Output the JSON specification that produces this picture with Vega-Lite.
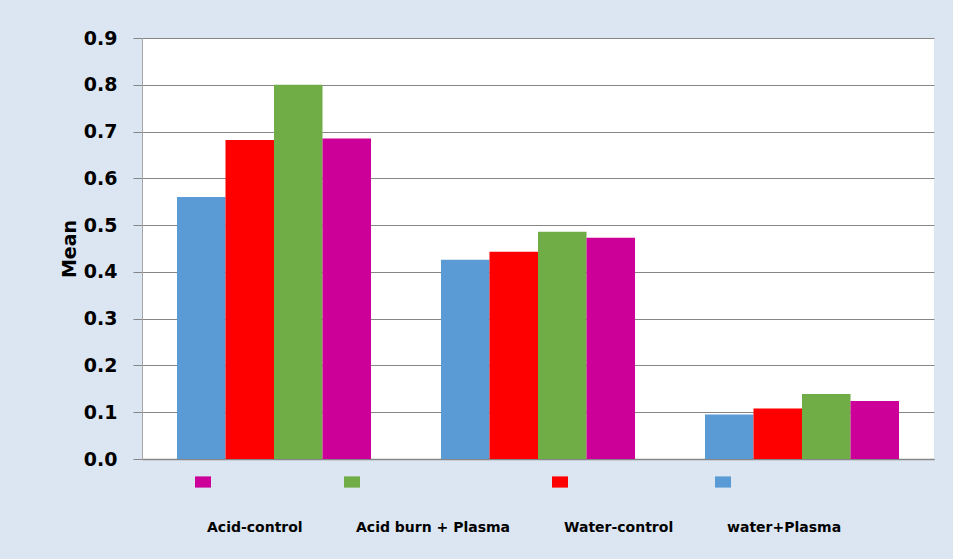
{
  "$schema": "https://vega.github.io/schema/vega-lite/v6.json",
  "width": 792,
  "height": 421,
  "autosize": "none",
  "padding": {"left": 142, "top": 38, "right": 19, "bottom": 100},
  "background": "#dce6f2",
  "config": {"view": {"fill": "white", "stroke": null}, "font": "DejaVu Sans"},
  "data": {
    "values": [
      {"group": "G1", "series": "water+Plasma", "value": 0.560},
      {"group": "G1", "series": "Water-control", "value": 0.682},
      {"group": "G1", "series": "Acid burn + Plasma", "value": 0.800},
      {"group": "G1", "series": "Acid-control", "value": 0.685},
      {"group": "G2", "series": "water+Plasma", "value": 0.426},
      {"group": "G2", "series": "Water-control", "value": 0.443},
      {"group": "G2", "series": "Acid burn + Plasma", "value": 0.486},
      {"group": "G2", "series": "Acid-control", "value": 0.473},
      {"group": "G3", "series": "water+Plasma", "value": 0.095},
      {"group": "G3", "series": "Water-control", "value": 0.108},
      {"group": "G3", "series": "Acid burn + Plasma", "value": 0.139},
      {"group": "G3", "series": "Acid-control", "value": 0.124}
    ]
  },
  "mark": {"type": "bar"},
  "encoding": {
    "x": {
      "field": "group",
      "type": "nominal",
      "scale": {"paddingInner": 0.265, "paddingOuter": 0.1325},
      "axis": {"labels": false, "ticks": false, "title": null, "domainColor": "#868686", "domainWidth": 1.5}
    },
    "xOffset": {
      "field": "series",
      "type": "nominal",
      "sort": ["water+Plasma", "Water-control", "Acid burn + Plasma", "Acid-control"],
      "scale": {"paddingInner": 0, "paddingOuter": 0}
    },
    "y": {
      "field": "value",
      "type": "quantitative",
      "scale": {"domain": [0, 0.9], "nice": false},
      "axis": {
        "values": [0, 0.1, 0.2, 0.3, 0.4, 0.5, 0.6, 0.7, 0.8, 0.9],
        "format": ".1f",
        "labelFont": "DejaVu Sans",
        "labelFontWeight": "bold",
        "labelFontSize": 19,
        "labelColor": "black",
        "labelPadding": 16,
        "tickSize": 9,
        "tickColor": "#868686",
        "gridColor": "#868686",
        "domainColor": "#a6a6a6",
        "title": "Mean",
        "titleFont": "DejaVu Sans",
        "titleFontSize": 19,
        "titleFontWeight": "bold",
        "titleColor": "black",
        "titlePadding": 4
      }
    },
    "color": {
      "field": "series",
      "type": "nominal",
      "scale": {
        "domain": ["Acid-control", "Acid burn + Plasma", "Water-control", "water+Plasma"],
        "range": ["#cc0099", "#70ad47", "#ff0000", "#5b9bd5"]
      },
      "legend": {
        "title": null,
        "orient": "none",
        "legendX": 53,
        "legendY": 436,
        "direction": "horizontal",
        "padding": 0,
        "columnPadding": 41,
        "symbolType": "M-1,-0.7H1V0.7H-1Z",
        "symbolSize": 256,
        "symbolStrokeWidth": 0,
        "symbolOpacity": 1,
        "labelOffset": 4,
        "labelFont": "DejaVu Sans",
        "labelFontSize": 14,
        "labelFontWeight": "bold",
        "labelColor": "black",
        "labelLimit": 300,
        "encode": {"labels": {"update": {"dy": {"value": 46}, "dx": {"value": -8}}}}
      }
    }
  }
}
